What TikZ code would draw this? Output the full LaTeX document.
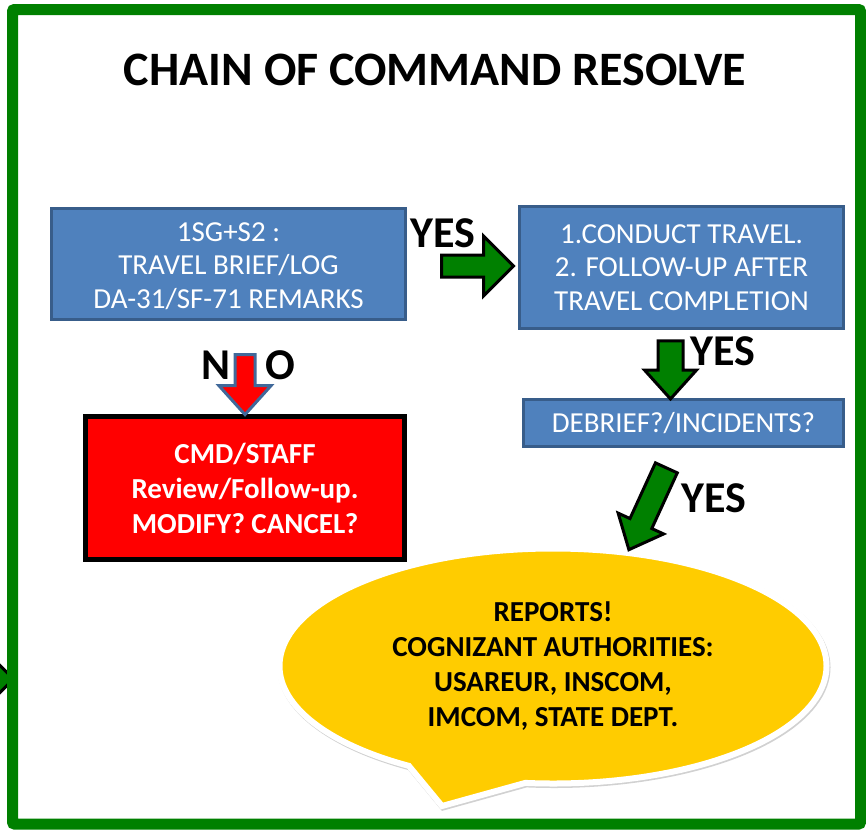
\documentclass[tikz,border=0pt]{standalone}
\usepackage{fontspec}
\setmainfont{Carlito}
\usetikzlibrary{shapes.arrows,shapes.callouts,shadows}
\definecolor{mygreen}{RGB}{0,128,0}
\definecolor{myblue}{RGB}{79,129,189}
\definecolor{myblueline}{RGB}{56,93,138}
\definecolor{myarrowline}{RGB}{65,105,154}
\definecolor{myyellow}{RGB}{255,204,0}
\begin{document}
\begin{tikzpicture}[x=1pt,y=-1pt,
  box/.style={rectangle,draw=myblueline,fill=myblue,line width=3pt,text=white,align=center,inner sep=0pt,font=\fontsize{29}{33.5}\selectfont},
  fatarrow/.style={single arrow,draw=black,fill=mygreen,line width=3pt,inner xsep=0pt,minimum width=0pt},
  lbl/.style={inner sep=0pt,font=\fontsize{44}{50}\selectfont\bfseries}]
\useasboundingbox (0,0) rectangle (866,830);
\node[font=\fontsize{48}{56}\selectfont\bfseries] (title) at (435,70) {CHAIN OF COMMAND RESOLVE};
\node[box,minimum width=354pt,minimum height=111pt] (brief) at (228.5,263.5) {\rule{0pt}{24pt}1SG+S2 :\\TRAVEL BRIEF/LOG\\DA-31/SF-71 REMARKS};
\node[box,minimum width=324pt,minimum height=122pt] (travel) at (681.5,267.5) {1.CONDUCT TRAVEL.\\2. FOLLOW-UP AFTER\\TRAVEL COMPLETION};
\node[box,minimum width=320pt,minimum height=47pt] (debrief) at (683.5,423) {DEBRIEF?/INCIDENTS?};
\node[box,draw=black,fill=red,line width=5pt,minimum width=319pt,minimum height=143pt,font=\fontsize{29}{35}\selectfont\bfseries] (staff) at (245,488) {CMD/STAFF\\Review/Follow-up.\\MODIFY? CANCEL?};
\node[ellipse callout,draw=white,line width=6pt,fill=myyellow,minimum width=547pt,minimum height=235pt,
  callout absolute pointer={(442,806)},callout pointer arc=26,
  drop shadow={shadow xshift=1pt,shadow yshift=-1.5pt,fill=black!30,draw=black!30,line width=6pt,opacity=.6},
  align=center,font=\fontsize{29}{35}\selectfont\bfseries] (reports) at (553,666) {REPORTS!\\COGNIZANT AUTHORITIES:\\USAREUR, INSCOM,\\IMCOM, STATE DEPT.};
\node[fatarrow,inner ysep=9.5pt,single arrow head extend=19pt,single arrow tip angle=90,minimum height=72pt] (goA) at (472,266) {};
\node[fatarrow,inner ysep=11pt,single arrow head extend=13.5pt,single arrow tip angle=84,minimum height=58pt,rotate=-90] (goB) at (670.5,363) {};
\node[fatarrow,inner ysep=10.5pt,single arrow head extend=13pt,single arrow tip angle=82,minimum height=90pt,rotate=-114.6] (goC) at (650.5,502.5) {};
\node[fatarrow,draw=myarrowline,fill=red,inner ysep=8.5pt,single arrow head extend=16pt,single arrow tip angle=84,minimum height=60pt,rotate=-90] (stop) at (245,379) {};
\node[fatarrow,inner ysep=9.5pt,single arrow head extend=19pt,single arrow tip angle=90,minimum height=72pt] (comein) at (-28,679) {};
\node[lbl] (yesA) at (443,233) {YES};
\node[lbl] (yesB) at (723,351) {YES};
\node[lbl] (yesC) at (714,498) {YES};
\node[lbl] (noN) at (216,365) {N};
\node[lbl] (noO) at (280,365) {O};
\draw[mygreen,line width=11pt,rounded corners=2pt] (12.5,9.5) rectangle (860.5,824);
\end{tikzpicture}
\end{document}
